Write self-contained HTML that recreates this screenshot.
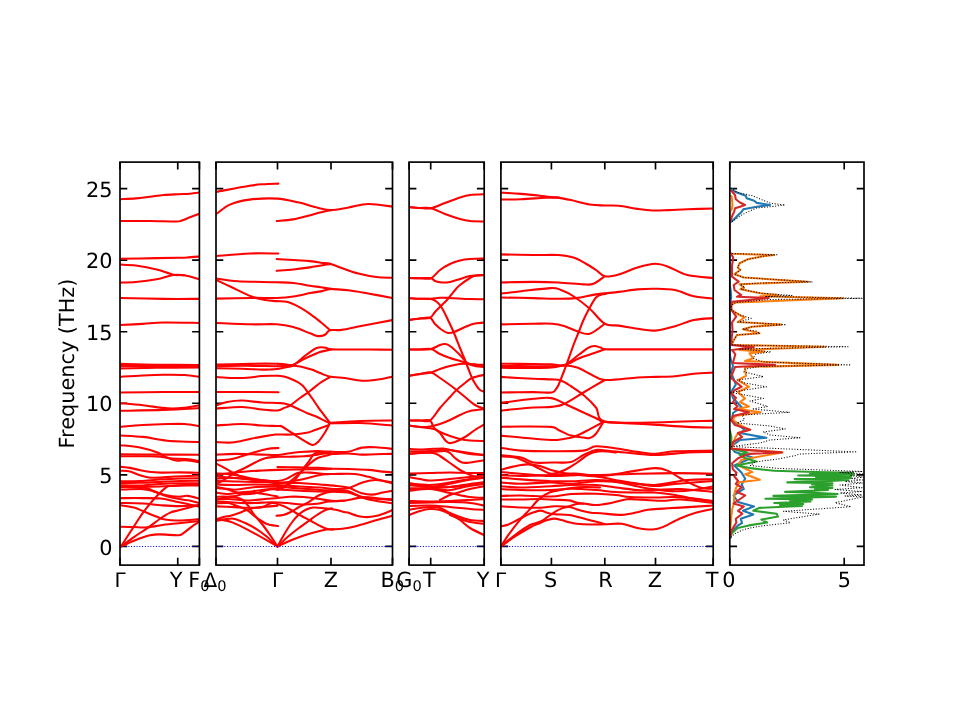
<!DOCTYPE html><html><head><meta charset="utf-8"><title>Phonon band structure and DOS</title>
<style>html,body{margin:0;padding:0;background:#fff;}svg{display:block;}text{font-family:"DejaVu Sans","Liberation Sans",sans-serif;fill:#000;text-rendering:geometricPrecision;}</style></head><body>
<svg width="960" height="720" viewBox="0 0 960 720">
<rect width="960" height="720" fill="#fff"/>
<defs>
<clipPath id="c0"><rect x="120.0" y="162.1" width="79.40" height="403.00"/></clipPath>
<clipPath id="c1"><rect x="216.0" y="162.1" width="176.50" height="403.00"/></clipPath>
<clipPath id="c2"><rect x="409.1" y="162.1" width="75.10" height="403.00"/></clipPath>
<clipPath id="c3"><rect x="500.9" y="162.1" width="212.30" height="403.00"/></clipPath>
<clipPath id="c4"><rect x="729.8" y="162.1" width="134.20" height="403.00"/></clipPath>
</defs>
<path d="M120.0,546.40h7.29M199.4,546.40h-7.29M120.0,474.84h7.29M199.4,474.84h-7.29M120.0,403.28h7.29M199.4,403.28h-7.29M120.0,331.72h7.29M199.4,331.72h-7.29M120.0,260.16h7.29M199.4,260.16h-7.29M120.0,188.60h7.29M199.4,188.60h-7.29M120.0,565.1v-7.29M120.0,162.1v7.29M177.75,565.1v-7.29M177.75,162.1v7.29M199.4,565.1v-7.29M199.4,162.1v7.29" stroke="#000" stroke-width="1.667" fill="none"/>
<path d="M216.0,546.40h7.29M392.5,546.40h-7.29M216.0,474.84h7.29M392.5,474.84h-7.29M216.0,403.28h7.29M392.5,403.28h-7.29M216.0,331.72h7.29M392.5,331.72h-7.29M216.0,260.16h7.29M392.5,260.16h-7.29M216.0,188.60h7.29M392.5,188.60h-7.29M216.0,565.1v-7.29M216.0,162.1v7.29M277.5,565.1v-7.29M277.5,162.1v7.29M331.0,565.1v-7.29M331.0,162.1v7.29M392.5,565.1v-7.29M392.5,162.1v7.29" stroke="#000" stroke-width="1.667" fill="none"/>
<path d="M409.1,546.40h7.29M484.2,546.40h-7.29M409.1,474.84h7.29M484.2,474.84h-7.29M409.1,403.28h7.29M484.2,403.28h-7.29M409.1,331.72h7.29M484.2,331.72h-7.29M409.1,260.16h7.29M484.2,260.16h-7.29M409.1,188.60h7.29M484.2,188.60h-7.29M409.1,565.1v-7.29M409.1,162.1v7.29M430.7,565.1v-7.29M430.7,162.1v7.29M484.2,565.1v-7.29M484.2,162.1v7.29" stroke="#000" stroke-width="1.667" fill="none"/>
<path d="M500.9,546.40h7.29M713.2,546.40h-7.29M500.9,474.84h7.29M713.2,474.84h-7.29M500.9,403.28h7.29M713.2,403.28h-7.29M500.9,331.72h7.29M713.2,331.72h-7.29M500.9,260.16h7.29M713.2,260.16h-7.29M500.9,188.60h7.29M713.2,188.60h-7.29M500.9,565.1v-7.29M500.9,162.1v7.29M551.4,565.1v-7.29M551.4,162.1v7.29M604.8,565.1v-7.29M604.8,162.1v7.29M655.5,565.1v-7.29M655.5,162.1v7.29M713.2,565.1v-7.29M713.2,162.1v7.29" stroke="#000" stroke-width="1.667" fill="none"/>
<path d="M729.8,546.40h7.29M864.0,546.40h-7.29M729.8,474.84h7.29M864.0,474.84h-7.29M729.8,403.28h7.29M864.0,403.28h-7.29M729.8,331.72h7.29M864.0,331.72h-7.29M729.8,260.16h7.29M864.0,260.16h-7.29M729.8,188.60h7.29M864.0,188.60h-7.29M729.8,565.1v-7.29M729.8,162.1v7.29M844.2,565.1v-7.29M844.2,162.1v7.29" stroke="#000" stroke-width="1.667" fill="none"/>
<g clip-path="url(#c0)" fill="none" stroke="#ff0000" stroke-width="2.08" stroke-linejoin="round" stroke-linecap="round">
<path d="M120.00,199.22C122.64,199.08 130.83,198.81 135.83,198.39C140.83,197.97 145.37,197.28 150.00,196.72C154.63,196.17 158.91,195.47 163.61,195.06C168.31,194.64 173.80,194.45 178.19,194.22C182.59,193.99 186.41,193.94 190.00,193.67C193.59,193.39 198.10,192.74 199.72,192.56"/>
<path d="M120.00,221.03C124.95,221.03 140.37,220.96 149.72,221.03C159.07,221.10 170.79,221.51 176.11,221.44C181.44,221.38 179.35,221.31 181.67,220.61C183.98,219.92 186.99,218.44 190.00,217.28C193.01,216.12 198.10,214.27 199.72,213.67"/>
<path d="M120.00,258.81C126.11,258.69 146.97,258.27 156.67,258.11C166.37,257.95 173.10,257.93 178.19,257.83C183.29,257.74 183.63,257.79 187.22,257.56C190.81,257.32 197.64,256.63 199.72,256.44"/>
<path d="M120.00,264.58C122.64,264.75 129.72,264.75 135.83,265.56C141.94,266.37 150.42,267.92 156.67,269.44C162.92,270.97 168.70,273.75 173.33,274.72C177.96,275.69 180.05,274.49 184.44,275.28C188.84,276.06 197.18,278.75 199.72,279.44"/>
<path d="M120.00,282.64C122.64,282.52 129.72,282.52 135.83,281.94C141.94,281.37 150.42,280.32 156.67,279.17C162.92,278.01 168.70,275.65 173.33,275.00C177.96,274.35 182.59,275.23 184.44,275.28"/>
<path d="M120.00,297.92C127.27,298.08 150.32,298.73 163.61,298.89C176.90,299.05 193.70,298.89 199.72,298.89"/>
<path d="M120.00,325.00C123.80,324.81 135.51,324.31 142.78,323.89C150.05,323.47 154.12,322.66 163.61,322.50C173.10,322.34 193.70,322.85 199.72,322.92"/>
<path d="M120.00,363.89C126.11,364.03 143.38,364.54 156.67,364.72C169.95,364.91 192.55,364.95 199.72,365.00"/>
<path d="M120.00,366.11C126.11,366.11 143.38,366.06 156.67,366.11C169.95,366.16 192.55,366.34 199.72,366.39"/>
<path d="M120.00,368.47C126.11,368.36 143.38,367.94 156.67,367.78C169.95,367.62 192.55,367.55 199.72,367.50"/>
<path d="M120.00,376.81C123.80,376.57 135.51,375.76 142.78,375.42C150.05,375.07 156.67,374.79 163.61,374.72C170.56,374.65 178.43,374.65 184.44,375.00C190.46,375.35 197.18,376.50 199.72,376.81"/>
<path d="M120.00,392.50C127.27,392.43 150.32,392.15 163.61,392.08C176.90,392.01 193.70,392.08 199.72,392.08"/>
<path d="M120.00,403.19C123.80,403.54 134.81,404.42 142.78,405.28C150.74,406.13 160.83,407.92 167.78,408.33C174.72,408.75 179.12,408.29 184.44,407.78C189.77,407.27 197.18,405.69 199.72,405.28"/>
<path d="M120.00,410.83C127.27,410.67 150.32,410.32 163.61,409.86C176.90,409.40 193.70,408.36 199.72,408.06"/>
<path d="M120.00,426.81C123.80,426.50 134.81,425.46 142.78,425.00C150.74,424.54 160.83,424.19 167.78,424.03C174.72,423.87 179.12,423.68 184.44,424.03C189.77,424.38 197.18,425.76 199.72,426.11"/>
<path d="M120.15,435.46C123.98,435.70 136.95,436.24 143.12,436.87C149.29,437.49 153.11,438.56 157.17,439.21C161.24,439.87 163.58,440.42 167.48,440.81C171.39,441.20 175.29,441.35 180.60,441.56C185.92,441.76 196.22,441.95 199.35,442.02"/>
<path d="M120.50,445.20C123.75,445.57 133.83,446.18 140.00,447.40C146.17,448.62 153.00,450.82 157.50,452.50C162.00,454.18 163.92,456.17 167.00,457.50C170.08,458.83 172.83,460.03 176.00,460.50C179.17,460.97 182.00,459.97 186.00,460.30C190.00,460.63 197.67,462.13 200.00,462.50"/>
<path d="M120.50,454.30C127.08,454.35 146.75,454.53 160.00,454.60C173.25,454.67 193.33,454.68 200.00,454.70"/>
<path d="M120.50,456.30C125.42,456.28 143.08,456.08 150.00,456.20C156.92,456.32 158.33,456.62 162.00,457.00C165.67,457.38 168.00,458.17 172.00,458.50C176.00,458.83 181.33,458.55 186.00,459.00C190.67,459.45 197.67,460.83 200.00,461.20"/>
<path d="M120.70,466.90C122.25,467.07 126.88,467.38 130.00,467.90C133.12,468.42 136.27,469.35 139.40,470.00C142.53,470.65 145.20,471.37 148.80,471.80C152.40,472.23 155.80,472.50 161.00,472.60C166.20,472.70 173.50,472.37 180.00,472.40C186.50,472.43 196.67,472.73 200.00,472.80"/>
<path d="M120.70,470.70C122.25,470.85 126.88,470.87 130.00,471.60C133.12,472.33 136.27,474.12 139.40,475.10C142.53,476.08 145.20,477.08 148.80,477.50C152.40,477.92 156.63,477.77 161.00,477.60C165.37,477.43 168.50,476.83 175.00,476.50C181.50,476.17 195.83,475.75 200.00,475.60"/>
<path d="M120.70,481.20C123.92,481.17 133.45,481.28 140.00,481.00C146.55,480.72 153.33,479.92 160.00,479.50C166.67,479.08 173.33,478.72 180.00,478.50C186.67,478.28 196.67,478.25 200.00,478.20"/>
<path d="M120.70,483.00C123.92,482.97 133.45,482.97 140.00,482.80C146.55,482.63 153.33,482.30 160.00,482.00C166.67,481.70 173.33,481.20 180.00,481.00C186.67,480.80 196.67,480.83 200.00,480.80"/>
<path d="M120.70,485.30C123.92,485.33 133.45,485.72 140.00,485.50C146.55,485.28 153.33,484.37 160.00,484.00C166.67,483.63 173.33,483.43 180.00,483.30C186.67,483.17 196.67,483.22 200.00,483.20"/>
<path d="M120.70,487.00C123.92,487.00 133.45,487.08 140.00,487.00C146.55,486.92 153.33,486.75 160.00,486.50C166.67,486.25 173.33,485.67 180.00,485.50C186.67,485.33 196.67,485.50 200.00,485.50"/>
<path d="M120.93,546.48C123.09,543.12 130.26,531.92 133.92,526.32C137.58,520.72 139.60,517.36 142.88,512.88C146.17,508.40 149.75,503.70 153.63,499.44C157.52,495.18 163.19,489.58 166.18,487.34C169.17,485.10 168.72,486.37 171.56,486.00C174.39,485.63 178.57,485.33 183.20,485.10C187.83,484.88 196.65,484.73 199.33,484.66"/>
<path d="M120.93,546.48C123.09,544.92 129.52,540.14 133.92,537.08C138.33,534.01 142.88,531.25 147.36,528.11C151.84,524.98 157.07,520.80 160.80,518.26C164.54,515.72 166.78,514.23 169.76,512.88C172.75,511.54 173.80,511.54 178.72,510.19C183.65,508.85 195.90,505.71 199.33,504.82"/>
<path d="M120.93,546.48C123.09,545.51 129.07,542.53 133.92,540.66C138.77,538.79 145.57,536.33 150.05,535.28C154.53,534.24 156.02,534.39 160.80,534.39C165.58,534.39 174.84,535.58 178.72,535.28C182.61,534.98 181.86,534.09 184.10,532.59C186.34,531.10 189.63,528.11 192.16,526.32C194.70,524.53 198.14,522.59 199.33,521.84"/>
<path d="M120.93,526.77C123.09,526.82 129.52,526.93 133.92,527.04C138.33,527.14 142.14,527.82 147.36,527.40C152.59,526.98 160.06,525.23 165.28,524.53C170.51,523.83 173.05,523.78 178.72,523.19C184.40,522.59 195.90,521.32 199.33,520.95"/>
<path d="M120.93,505.27C123.09,505.64 130.26,506.53 133.92,507.51C137.58,508.48 139.15,509.60 142.88,511.09C146.62,512.58 152.59,515.05 156.32,516.47C160.06,517.88 161.55,518.93 165.28,519.60C169.02,520.27 173.05,520.57 178.72,520.50C184.40,520.42 195.90,519.38 199.33,519.15"/>
<path d="M120.93,503.03C124.59,503.10 136.24,503.10 142.88,503.47C149.53,503.85 154.83,504.82 160.80,505.27C166.78,505.71 172.30,506.16 178.72,506.16C185.15,506.16 195.90,505.41 199.33,505.27"/>
<path d="M120.93,498.10C124.59,498.10 136.24,498.02 142.88,498.10C149.53,498.17 155.58,498.02 160.80,498.54C166.03,499.07 169.76,500.34 174.24,501.23C178.72,502.13 183.50,503.03 187.68,503.92C191.87,504.82 197.39,506.16 199.33,506.61"/>
<path d="M120.93,489.58C124.59,489.51 137.43,488.84 142.88,489.14C148.33,489.43 149.90,490.41 153.63,491.38C157.37,492.35 161.10,494.06 165.28,494.96C169.46,495.86 174.99,496.60 178.72,496.75C182.46,496.90 184.25,495.56 187.68,495.86C191.12,496.16 197.39,498.10 199.33,498.54"/>
<path d="M120.93,486.90C124.89,487.05 138.77,486.90 144.67,487.79C150.57,488.69 152.89,490.93 156.32,492.27C159.76,493.62 162.30,494.89 165.28,495.86C168.27,496.83 170.51,497.35 174.24,498.10C177.98,498.84 183.50,499.52 187.68,500.34C191.87,501.16 197.39,502.58 199.33,503.03"/>
</g>
<line x1="120.0" y1="546.4" x2="199.4" y2="546.4" stroke="#0000ff" stroke-width="1.04" stroke-dasharray="1.04,1.72"/>
<g clip-path="url(#c1)" fill="none" stroke="#ff0000" stroke-width="2.08" stroke-linejoin="round" stroke-linecap="round">
<path d="M214.00,192.20C214.48,192.12 210.97,192.77 216.90,191.70C222.83,190.63 241.92,187.05 249.60,185.80C257.28,184.55 258.22,184.57 263.00,184.20C267.78,183.83 275.75,183.70 278.30,183.60"/>
<path d="M214.00,215.00C214.48,214.75 214.27,215.23 216.90,213.50C219.53,211.77 224.35,206.92 229.80,204.60C235.25,202.28 241.68,200.60 249.60,199.60C257.52,198.60 269.05,198.10 277.30,198.60C285.55,199.10 292.50,201.12 299.10,202.60C305.70,204.08 311.62,206.25 316.90,207.50C322.18,208.75 325.52,210.10 330.80,210.10C336.08,210.10 342.33,208.52 348.60,207.50C354.87,206.48 360.83,204.12 368.40,204.00C375.97,203.88 389.73,206.33 394.00,206.80"/>
<path d="M276.80,221.00C279.53,220.73 287.83,220.32 293.20,219.40C298.57,218.48 304.53,216.65 309.00,215.50C313.47,214.35 316.37,213.40 320.00,212.50C323.63,211.60 329.00,210.50 330.80,210.10"/>
<path d="M214.00,256.30C214.48,256.25 210.97,256.47 216.90,256.00C222.83,255.53 239.37,253.92 249.60,253.50C259.83,253.08 273.52,253.50 278.30,253.50"/>
<path d="M276.67,259.03C282.22,259.38 302.64,260.49 310.00,261.11C317.36,261.74 317.41,262.31 320.83,262.78C324.26,263.24 327.08,263.01 330.56,263.89C334.03,264.77 337.04,266.44 341.67,268.06C346.30,269.68 352.55,272.11 358.33,273.61C364.12,275.12 370.72,276.39 376.39,277.08C382.06,277.78 389.70,277.66 392.36,277.78"/>
<path d="M276.67,270.83C279.44,270.60 287.78,270.02 293.33,269.44C298.89,268.87 303.80,268.29 310.00,267.36C316.20,266.44 327.13,264.47 330.56,263.89"/>
<path d="M215.56,278.47C219.26,278.94 227.59,280.62 237.78,281.25C247.96,281.88 267.41,281.92 276.67,282.22C285.93,282.52 287.78,282.45 293.33,283.06C298.89,283.66 305.42,285.14 310.00,285.83C314.58,286.53 317.41,286.71 320.83,287.22C324.26,287.73 325.93,288.38 330.56,288.89C335.19,289.40 342.13,289.47 348.61,290.28C355.09,291.09 362.15,292.48 369.44,293.75C376.74,295.02 388.54,297.22 392.36,297.92"/>
<path d="M215.56,279.58C218.10,280.79 224.81,283.98 230.83,286.81C236.85,289.63 245.88,294.33 251.67,296.53C257.45,298.73 261.39,299.24 265.56,300.00C269.72,300.76 272.96,300.76 276.67,301.11C280.37,301.46 284.07,301.11 287.78,302.08C291.48,303.06 295.19,304.98 298.89,306.94C302.59,308.91 306.34,311.34 310.00,313.89C313.66,316.44 317.52,319.56 320.83,322.22C324.14,324.88 328.36,328.59 329.86,329.86"/>
<path d="M215.56,298.61C221.57,298.50 241.48,298.03 251.67,297.92C261.85,297.80 269.72,298.15 276.67,297.92C283.61,297.69 287.78,297.34 293.33,296.53C298.89,295.72 305.42,293.91 310.00,293.06C314.58,292.20 317.41,292.08 320.83,291.39C324.26,290.69 328.94,289.31 330.56,288.89"/>
<path d="M215.56,322.92C221.57,323.15 241.48,324.07 251.67,324.31C261.85,324.54 269.72,323.84 276.67,324.31C283.61,324.77 287.78,325.58 293.33,327.08C298.89,328.59 305.88,331.83 310.00,333.33C314.12,334.84 315.56,335.88 318.06,336.11C320.56,336.34 323.03,335.69 325.00,334.72C326.97,333.75 327.08,331.09 329.86,330.28C332.64,329.47 336.23,330.62 341.67,329.86C347.11,329.10 354.05,327.31 362.50,325.69C370.95,324.07 387.38,321.06 392.36,320.14"/>
<path d="M216.00,364.50C220.33,364.42 233.83,364.15 242.00,364.00C250.17,363.85 259.08,363.63 265.00,363.60C270.92,363.57 275.42,363.77 277.50,363.80"/>
<path d="M216.00,366.20C220.33,366.13 233.83,365.83 242.00,365.80C250.17,365.77 259.08,365.92 265.00,366.00C270.92,366.08 275.42,366.25 277.50,366.30"/>
<path d="M216.00,368.20C220.33,368.30 234.33,368.57 242.00,368.80C249.67,369.03 257.00,369.50 262.00,369.60C267.00,369.70 269.42,369.50 272.00,369.40C274.58,369.30 276.58,369.07 277.50,369.00"/>
<path d="M277.50,369.00C278.75,368.75 282.42,368.08 285.00,367.50C287.58,366.92 290.50,366.75 293.00,365.50C295.50,364.25 297.83,361.75 300.00,360.00C302.17,358.25 304.05,356.53 306.00,355.00C307.95,353.47 310.03,351.93 311.70,350.80C313.37,349.67 314.38,348.80 316.00,348.20C317.62,347.60 319.73,347.27 321.40,347.20C323.07,347.13 324.40,347.43 326.00,347.80C327.60,348.17 327.00,349.12 331.00,349.40C335.00,349.68 343.50,349.48 350.00,349.50C356.50,349.52 362.67,349.45 370.00,349.50C377.33,349.55 390.00,349.75 394.00,349.80"/>
<path d="M277.50,363.80C278.75,363.88 282.42,364.13 285.00,364.30C287.58,364.47 290.00,365.60 293.00,364.80C296.00,364.00 299.88,361.05 303.00,359.50C306.12,357.95 308.87,356.75 311.70,355.50C314.53,354.25 316.78,353.02 320.00,352.00C323.22,350.98 329.17,349.83 331.00,349.40"/>
<path d="M277.50,366.30C278.75,366.25 282.42,366.08 285.00,366.00C287.58,365.92 290.50,365.72 293.00,365.80C295.50,365.88 298.00,366.17 300.00,366.50C302.00,366.83 303.05,367.28 305.00,367.80C306.95,368.32 309.20,368.73 311.70,369.60C314.20,370.47 317.23,371.88 320.00,373.00C322.77,374.12 326.47,375.67 328.30,376.30C330.13,376.93 327.98,376.47 331.00,376.80C334.02,377.13 341.57,377.68 346.40,378.30C351.23,378.92 356.07,380.13 360.00,380.50C363.93,380.87 366.67,380.72 370.00,380.50C373.33,380.28 376.00,379.90 380.00,379.20C384.00,378.50 391.67,376.78 394.00,376.30"/>
<path d="M216.00,377.00C218.67,377.17 226.83,377.87 232.00,378.00C237.17,378.13 242.00,378.13 247.00,377.80C252.00,377.47 256.92,376.33 262.00,376.00C267.08,375.67 273.85,375.72 277.50,375.80C281.15,375.88 281.82,376.05 283.90,376.50C285.98,376.95 287.68,377.57 290.00,378.50C292.32,379.43 295.63,380.85 297.80,382.10C299.97,383.35 301.38,384.38 303.00,386.00C304.62,387.62 305.83,389.55 307.50,391.80C309.17,394.05 311.15,396.83 313.00,399.50C314.85,402.17 316.77,405.22 318.60,407.80C320.43,410.38 322.15,412.57 324.00,415.00C325.85,417.43 328.75,421.17 329.70,422.40"/>
<path d="M216.00,392.00C222.00,392.00 241.58,391.97 252.00,392.00C262.42,392.03 274.08,392.17 278.50,392.20"/>
<path d="M216.00,408.50C220.33,408.25 234.33,406.83 242.00,407.00C249.67,407.17 256.08,408.92 262.00,409.50C267.92,410.08 273.83,410.75 277.50,410.50C281.17,410.25 281.92,408.83 284.00,408.00C286.08,407.17 287.33,407.17 290.00,405.50C292.67,403.83 296.67,400.42 300.00,398.00C303.33,395.58 306.67,393.50 310.00,391.00C313.33,388.50 316.67,385.33 320.00,383.00C323.33,380.67 328.33,378.00 330.00,377.00"/>
<path d="M216.00,405.50C217.83,404.92 222.67,402.83 227.00,402.00C231.33,401.17 236.17,400.42 242.00,400.50C247.83,400.58 256.08,402.08 262.00,402.50C267.92,402.92 273.17,402.67 277.50,403.00C281.83,403.33 282.92,402.75 288.00,404.50C293.08,406.25 303.50,411.58 308.00,413.50C312.50,415.42 311.50,414.42 315.00,416.00C318.50,417.58 326.67,421.83 329.00,423.00"/>
<path d="M329.00,423.00C334.17,422.67 349.42,421.42 360.00,421.00C370.58,420.58 387.08,420.58 392.50,420.50"/>
<path d="M329.00,423.50C334.17,423.42 349.42,422.67 360.00,423.00C370.58,423.33 387.08,425.08 392.50,425.50"/>
<path d="M216.00,425.50C220.33,425.25 234.33,424.00 242.00,424.00C249.67,424.00 256.08,425.17 262.00,425.50C267.92,425.83 274.17,425.83 277.50,426.00C280.83,426.17 279.58,425.33 282.00,426.50C284.42,427.67 287.67,430.25 292.00,433.00C296.33,435.75 304.50,441.00 308.00,443.00C311.50,445.00 311.33,445.17 313.00,445.00C314.67,444.83 316.17,443.83 318.00,442.00C319.83,440.17 322.17,436.83 324.00,434.00C325.83,431.17 328.17,426.50 329.00,425.00"/>
<path d="M216.00,442.00C218.67,442.08 226.00,443.08 232.00,442.50C238.00,441.92 245.33,439.75 252.00,438.50C258.67,437.25 267.75,435.67 272.00,435.00C276.25,434.33 274.17,434.58 277.50,434.50C280.83,434.42 286.92,434.83 292.00,434.50C297.08,434.17 304.17,433.25 308.00,432.50C311.83,431.75 311.50,431.25 315.00,430.00C318.50,428.75 326.67,425.83 329.00,425.00"/>
<path d="M216.00,460.50C218.67,460.25 226.00,460.25 232.00,459.00C238.00,457.75 246.17,454.67 252.00,453.00C257.83,451.33 262.58,449.83 267.00,449.00C271.42,448.17 276.58,448.17 278.50,448.00"/>
<path d="M216.00,454.60C219.13,454.48 229.35,453.97 234.80,453.90C240.25,453.83 244.07,454.08 248.70,454.20C253.33,454.32 257.80,454.47 262.60,454.60C267.40,454.73 272.95,455.23 277.50,455.00C282.05,454.77 285.52,453.73 289.90,453.20C294.28,452.67 299.17,452.15 303.80,451.80C308.43,451.45 313.07,451.10 317.70,451.10C322.33,451.10 326.57,451.68 331.60,451.80C336.63,451.92 342.87,452.50 347.90,451.80C352.93,451.10 357.17,448.35 361.80,447.60C366.43,446.85 370.33,447.07 375.70,447.30C381.07,447.53 390.95,448.72 394.00,449.00"/>
<path d="M216.00,484.00C217.00,483.50 220.02,482.08 222.00,481.00C223.98,479.92 225.77,478.90 227.90,477.50C230.03,476.10 231.91,474.22 234.80,472.60C237.69,470.98 241.77,469.53 245.25,467.80C248.73,466.07 252.22,463.83 255.70,462.20C259.18,460.57 262.47,458.90 266.10,458.00C269.73,457.10 273.53,457.02 277.50,456.80C281.47,456.58 285.52,456.78 289.90,456.70C294.28,456.62 299.17,456.65 303.80,456.30C308.43,455.95 314.23,455.07 317.70,454.60C321.17,454.13 321.88,453.62 324.60,453.50C327.32,453.38 330.12,453.90 334.00,453.90C337.88,453.90 343.27,453.38 347.90,453.50C352.53,453.62 357.17,454.48 361.80,454.60C366.43,454.72 370.33,454.32 375.70,454.20C381.07,454.08 390.95,453.95 394.00,453.90"/>
<path d="M216.00,463.60C217.40,464.30 221.61,466.30 224.40,467.80C227.19,469.30 230.43,471.33 232.75,472.60C235.07,473.87 235.64,474.35 238.30,475.40C240.96,476.45 244.65,478.08 248.70,478.90C252.75,479.72 257.80,479.95 262.60,480.30C267.40,480.65 273.53,481.23 277.50,481.00C281.47,480.77 283.18,480.18 286.40,478.90C289.62,477.62 294.03,474.35 296.80,473.30C299.57,472.25 300.68,472.72 303.00,472.60C305.32,472.48 307.10,472.37 310.70,472.60C314.30,472.83 320.72,473.77 324.60,474.00C328.48,474.23 328.97,474.00 334.00,474.00C339.03,474.00 349.02,473.53 354.80,474.00C360.58,474.47 365.22,475.98 368.70,476.80C372.18,477.62 371.48,477.74 375.70,478.90C379.92,480.06 390.95,482.94 394.00,483.75"/>
<path d="M216.00,474.70C219.13,474.35 229.35,473.18 234.80,472.60C240.25,472.03 244.07,471.60 248.70,471.25C253.33,470.90 257.80,470.73 262.60,470.50C267.40,470.27 271.80,470.07 277.50,469.90C283.20,469.73 291.27,469.62 296.80,469.50C302.33,469.38 306.07,469.25 310.70,469.20C315.33,469.15 320.72,469.27 324.60,469.20C328.48,469.13 328.97,468.80 334.00,468.80C339.03,468.80 349.02,469.02 354.80,469.20C360.58,469.38 364.07,469.50 368.70,469.90C373.33,470.30 378.38,471.15 382.60,471.60C386.82,472.05 392.10,472.43 394.00,472.60"/>
<path d="M277.50,467.10C280.72,467.15 290.10,467.28 296.80,467.40C303.50,467.52 312.00,467.60 317.70,467.80C323.40,468.00 328.78,468.47 331.00,468.60"/>
<path d="M277.50,488.00C278.75,487.67 282.35,487.05 285.00,486.00C287.65,484.95 291.08,483.58 293.40,481.70C295.72,479.82 297.17,477.02 298.90,474.70C300.63,472.38 302.07,470.12 303.80,467.80C305.53,465.48 307.57,463.12 309.30,460.80C311.03,458.48 312.23,455.32 314.20,453.90C316.17,452.48 318.30,452.65 321.10,452.30C323.90,451.95 329.35,451.88 331.00,451.80"/>
<path d="M277.50,490.00C278.58,489.58 281.93,488.88 284.00,487.50C286.07,486.12 287.77,483.60 289.90,481.70C292.03,479.80 294.48,478.18 296.80,476.10C299.12,474.02 301.48,471.40 303.80,469.20C306.12,467.00 308.38,464.77 310.70,462.90C313.02,461.03 315.38,459.15 317.70,458.00C320.02,456.85 322.38,456.62 324.60,456.00C326.82,455.38 329.93,454.58 331.00,454.30"/>
<path d="M277.50,484.00C279.57,483.62 285.52,482.55 289.90,481.70C294.28,480.85 299.17,479.95 303.80,478.90C308.43,477.85 314.23,476.18 317.70,475.40C321.17,474.62 322.38,474.43 324.60,474.20C326.82,473.97 329.93,474.03 331.00,474.00"/>
<path d="M216.00,481.00C219.17,481.08 228.50,481.33 235.00,481.50C241.50,481.67 247.92,481.83 255.00,482.00C262.08,482.17 270.00,482.33 277.50,482.50C285.00,482.67 292.92,482.67 300.00,483.00C307.08,483.33 314.33,484.07 320.00,484.50C325.67,484.93 329.35,485.08 334.00,485.60C338.65,486.12 343.27,486.33 347.90,487.60C352.53,488.87 357.75,492.03 361.80,493.20C365.85,494.37 368.73,494.72 372.20,494.60C375.67,494.48 378.97,493.20 382.60,492.50C386.23,491.80 392.10,490.75 394.00,490.40"/>
<path d="M216.00,484.50C219.17,484.58 228.50,485.00 235.00,485.00C241.50,485.00 247.92,484.50 255.00,484.50C262.08,484.50 270.00,484.67 277.50,485.00C285.00,485.33 292.92,486.08 300.00,486.50C307.08,486.92 314.33,487.08 320.00,487.50C325.67,487.92 329.35,488.87 334.00,489.00C338.65,489.13 343.27,489.33 347.90,488.30C352.53,487.27 357.17,484.18 361.80,482.80C366.43,481.42 370.33,480.00 375.70,480.00C381.07,480.00 390.95,482.33 394.00,482.80"/>
<path d="M216.00,486.90C219.13,487.37 228.18,489.68 234.80,489.70C241.42,489.72 248.58,487.48 255.70,487.00C262.82,486.52 270.12,486.55 277.50,486.80C284.88,487.05 292.92,487.97 300.00,488.50C307.08,489.03 314.33,489.68 320.00,490.00C325.67,490.32 329.35,490.22 334.00,490.40C338.65,490.58 343.27,489.93 347.90,491.10C352.53,492.27 357.17,495.78 361.80,497.40C366.43,499.02 370.33,499.77 375.70,500.80C381.07,501.83 390.95,503.13 394.00,503.60"/>
<path d="M216.00,488.00C217.98,488.25 223.60,488.52 227.90,489.50C232.20,490.48 237.17,493.28 241.80,493.90C246.43,494.52 251.07,493.93 255.70,493.20C260.33,492.47 265.97,490.12 269.60,489.50C273.23,488.88 272.43,489.28 277.50,489.50C282.57,489.72 292.92,490.47 300.00,490.80C307.08,491.13 314.33,491.33 320.00,491.50C325.67,491.67 329.35,491.63 334.00,491.80C338.65,491.97 343.27,491.68 347.90,492.50C352.53,493.32 357.17,495.66 361.80,496.70C366.43,497.74 370.33,498.18 375.70,498.75C381.07,499.32 390.95,499.88 394.00,500.10"/>
<path d="M216.00,496.70C217.98,496.70 224.57,496.57 227.90,496.70C231.23,496.83 233.68,497.05 236.00,497.50C238.32,497.95 239.68,497.92 241.80,499.40C243.92,500.88 246.67,503.85 248.70,506.40C250.73,508.95 251.78,511.77 254.00,514.70C256.22,517.63 259.33,520.62 262.00,524.00C264.67,527.38 267.42,531.27 270.00,535.00C272.58,538.73 276.25,544.50 277.50,546.40"/>
<path d="M216.00,499.40C218.00,499.33 224.00,498.90 228.00,499.00C232.00,499.10 236.33,499.75 240.00,500.00C243.67,500.25 245.83,500.67 250.00,500.50C254.17,500.33 260.42,499.42 265.00,499.00C269.58,498.58 273.35,498.38 277.50,498.00C281.65,497.62 285.52,496.87 289.90,496.70C294.28,496.53 299.17,496.66 303.80,497.00C308.43,497.34 313.07,498.12 317.70,498.75C322.33,499.38 327.55,500.46 331.60,500.80C335.65,501.14 339.28,500.92 342.00,500.80C344.72,500.68 344.60,500.67 347.90,500.10C351.20,499.53 358.33,497.85 361.80,497.40C365.27,496.95 365.23,497.17 368.70,497.40C372.17,497.62 378.38,498.42 382.60,498.75C386.82,499.08 392.10,499.29 394.00,499.40"/>
<path d="M216.00,501.50C218.00,501.58 224.00,501.75 228.00,502.00C232.00,502.25 235.50,502.83 240.00,503.00C244.50,503.17 249.67,503.12 255.00,503.00C260.33,502.88 266.67,502.25 272.00,502.25C277.33,502.25 282.00,502.62 287.00,503.00C292.00,503.38 297.00,504.38 302.00,504.50C307.00,504.62 312.62,504.25 317.00,503.75C321.38,503.25 323.75,502.00 328.25,501.50C332.75,501.00 341.38,500.88 344.00,500.75"/>
<path d="M216.00,503.50C218.00,503.42 224.50,502.58 228.00,503.00C231.50,503.42 233.83,504.83 237.00,506.00C240.17,507.17 243.67,508.00 247.00,510.00C250.33,512.00 253.67,515.67 257.00,518.00C260.33,520.33 263.50,522.67 267.00,524.00C270.50,525.33 276.17,525.67 278.00,526.00"/>
<path d="M216.00,506.40C219.13,506.52 229.35,506.87 234.80,507.10C240.25,507.33 244.07,507.80 248.70,507.80C253.33,507.80 258.72,507.90 262.60,507.10C266.48,506.30 268.56,503.18 272.00,503.00C275.44,502.82 280.12,504.88 283.25,506.00C286.38,507.12 288.25,508.38 290.75,509.75C293.25,511.12 295.12,512.50 298.25,514.25C301.38,516.00 305.75,518.25 309.50,520.25C313.25,522.25 317.62,524.75 320.75,526.25C323.88,527.75 326.04,528.74 328.25,529.25C330.46,529.76 333.04,529.29 334.00,529.30"/>
<path d="M216.00,519.60C217.40,519.13 221.83,517.50 224.40,516.80C226.97,516.10 228.50,516.22 231.40,515.40C234.30,514.58 238.92,512.93 241.80,511.90C244.68,510.87 246.38,509.88 248.70,509.20C251.02,508.52 250.90,508.38 255.70,507.80C260.50,507.22 273.87,506.05 277.50,505.70"/>
<path d="M216.00,521.00C217.98,520.65 224.77,519.25 227.90,518.90C231.03,518.55 231.91,518.22 234.80,518.90C237.69,519.58 241.77,521.38 245.25,523.00C248.73,524.62 252.24,526.43 255.70,528.60C259.16,530.77 262.37,533.03 266.00,536.00C269.63,538.97 275.58,544.67 277.50,546.40"/>
<path d="M216.00,518.50C218.83,519.18 227.00,520.33 233.00,522.60C239.00,524.87 244.58,528.13 252.00,532.10C259.42,536.07 273.25,544.02 277.50,546.40"/>
<path d="M277.50,546.50C278.46,544.75 281.04,539.75 283.25,536.00C285.46,532.25 288.25,527.50 290.75,524.00C293.25,520.50 295.75,517.38 298.25,515.00C300.75,512.62 303.25,511.00 305.75,509.75C308.25,508.50 310.12,507.75 313.25,507.50C316.38,507.25 320.75,507.88 324.50,508.25C328.25,508.62 332.50,509.12 335.75,509.75C339.00,510.38 341.98,511.52 344.00,512.00C346.02,512.48 344.93,511.80 347.90,512.60C350.87,513.40 357.17,516.22 361.80,516.80C366.43,517.38 370.33,517.32 375.70,516.10C381.07,514.88 390.95,510.60 394.00,509.50"/>
<path d="M277.50,546.50C279.08,545.00 283.54,540.50 287.00,537.50C290.46,534.50 294.50,531.38 298.25,528.50C302.00,525.62 306.38,522.50 309.50,520.25C312.62,518.00 314.50,516.62 317.00,515.00C319.50,513.38 322.00,511.62 324.50,510.50C327.00,509.38 330.75,508.62 332.00,508.25"/>
<path d="M277.50,546.50C279.08,545.75 283.54,543.50 287.00,542.00C290.46,540.50 294.50,538.88 298.25,537.50C302.00,536.12 305.75,534.88 309.50,533.75C313.25,532.62 317.62,531.50 320.75,530.75C323.88,530.00 326.04,529.49 328.25,529.25C330.46,529.01 330.73,529.52 334.00,529.30C337.27,529.07 343.27,528.72 347.90,527.90C352.53,527.08 357.17,525.67 361.80,524.40C366.43,523.13 370.33,521.80 375.70,520.30C381.07,518.80 390.95,516.22 394.00,515.40"/>
<path d="M276.50,515.75C277.62,515.62 280.88,515.62 283.25,515.00C285.62,514.38 288.25,513.25 290.75,512.00C293.25,510.75 295.75,508.88 298.25,507.50C300.75,506.12 303.50,505.00 305.75,503.75C308.00,502.50 309.76,501.29 311.75,500.00C313.74,498.71 315.56,497.13 317.70,496.00C319.84,494.87 322.38,493.90 324.60,493.20C326.82,492.50 329.93,492.03 331.00,491.80"/>
<path d="M216.00,473.50C218.00,473.58 224.00,473.58 228.00,474.00C232.00,474.42 235.50,475.17 240.00,476.00C244.50,476.83 250.00,478.08 255.00,479.00C260.00,479.92 266.25,480.97 270.00,481.50C273.75,482.03 276.25,482.08 277.50,482.20"/>
<path d="M216.00,476.30C218.00,476.50 224.00,477.13 228.00,477.50C232.00,477.87 235.50,478.08 240.00,478.50C244.50,478.92 248.75,479.50 255.00,480.00C261.25,480.50 273.75,481.25 277.50,481.50"/>
<path d="M216.00,478.60C218.33,478.47 225.17,477.77 230.00,477.80C234.83,477.83 240.00,478.30 245.00,478.80C250.00,479.30 254.58,480.02 260.00,480.80C265.42,481.58 274.58,483.05 277.50,483.50"/>
<path d="M216.00,492.60C218.03,492.83 224.40,494.00 228.20,494.00C232.00,494.00 235.27,492.95 238.80,492.60C242.33,492.25 245.27,491.67 249.40,491.90C253.53,492.13 258.92,493.23 263.60,494.00C268.28,494.77 275.18,496.08 277.50,496.50"/>
<path d="M216.00,499.70C218.03,499.22 225.00,497.40 228.20,496.80C231.40,496.20 232.85,496.57 235.20,496.10C237.55,495.63 239.33,494.82 242.30,494.00C245.27,493.18 249.45,491.92 253.00,491.20C256.55,490.48 259.52,490.15 263.60,489.70C267.68,489.25 275.18,488.70 277.50,488.50"/>
</g>
<line x1="216.0" y1="546.4" x2="392.5" y2="546.4" stroke="#0000ff" stroke-width="1.04" stroke-dasharray="1.04,1.72"/>
<g clip-path="url(#c2)" fill="none" stroke="#ff0000" stroke-width="2.08" stroke-linejoin="round" stroke-linecap="round">
<path d="M408.00,207.00C410.00,207.17 416.17,207.80 420.00,208.00C423.83,208.20 426.83,209.03 431.00,208.20C435.17,207.37 440.17,204.78 445.00,203.00C449.83,201.22 455.83,198.83 460.00,197.50C464.17,196.17 465.67,195.55 470.00,195.00C474.33,194.45 483.33,194.33 486.00,194.20"/>
<path d="M408.00,207.00C410.00,207.17 416.17,207.80 420.00,208.00C423.83,208.20 426.83,207.20 431.00,208.20C435.17,209.20 440.17,212.20 445.00,214.00C449.83,215.80 455.83,217.83 460.00,219.00C464.17,220.17 465.67,220.58 470.00,221.00C474.33,221.42 483.33,221.42 486.00,221.50"/>
<path d="M408.00,278.00C410.00,278.03 416.17,278.17 420.00,278.20C423.83,278.23 427.67,279.57 431.00,278.20C434.33,276.83 436.83,272.37 440.00,270.00C443.17,267.63 446.67,265.58 450.00,264.00C453.33,262.42 456.67,261.33 460.00,260.50C463.33,259.67 465.67,259.33 470.00,259.00C474.33,258.67 483.33,258.58 486.00,258.50"/>
<path d="M408.00,278.00C410.00,278.03 416.17,278.17 420.00,278.20C423.83,278.23 428.50,277.73 431.00,278.20C433.50,278.67 433.17,280.28 435.00,281.00C436.83,281.72 439.50,282.33 442.00,282.50C444.50,282.67 447.00,282.58 450.00,282.00C453.00,281.42 456.67,280.00 460.00,279.00C463.33,278.00 465.67,276.67 470.00,276.00C474.33,275.33 483.33,275.17 486.00,275.00"/>
<path d="M408.00,320.00C410.00,319.75 416.33,318.87 420.00,318.50C423.67,318.13 427.50,318.88 430.00,317.80C432.50,316.72 433.00,314.13 435.00,312.00C437.00,309.87 440.00,307.00 442.00,305.00C444.00,303.00 445.50,301.67 447.00,300.00C448.50,298.33 449.50,296.83 451.00,295.00C452.50,293.17 454.50,290.67 456.00,289.00C457.50,287.33 457.67,286.83 460.00,285.00C462.33,283.17 467.33,279.58 470.00,278.00C472.67,276.42 473.33,276.00 476.00,275.50C478.67,275.00 484.33,275.08 486.00,275.00"/>
<path d="M408.00,320.00C410.00,319.75 416.33,318.87 420.00,318.50C423.67,318.13 427.50,316.88 430.00,317.80C432.50,318.72 433.00,321.97 435.00,324.00C437.00,326.03 439.83,328.50 442.00,330.00C444.17,331.50 446.00,332.67 448.00,333.00C450.00,333.33 451.17,333.00 454.00,332.00C456.83,331.00 461.50,328.42 465.00,327.00C468.50,325.58 471.50,324.25 475.00,323.50C478.50,322.75 484.17,322.67 486.00,322.50"/>
<path d="M408.00,298.00C410.00,298.13 416.17,298.67 420.00,298.80C423.83,298.93 427.67,298.97 431.00,298.80C434.33,298.63 436.83,297.93 440.00,297.80C443.17,297.67 445.00,297.80 450.00,298.00C455.00,298.20 464.00,298.80 470.00,299.00C476.00,299.20 483.33,299.17 486.00,299.20"/>
<path d="M408.00,298.00C410.00,298.13 416.17,298.63 420.00,298.80C423.83,298.97 428.17,298.47 431.00,299.00C433.83,299.53 435.17,300.50 437.00,302.00C438.83,303.50 440.17,305.00 442.00,308.00C443.83,311.00 446.00,315.83 448.00,320.00C450.00,324.17 452.00,328.33 454.00,333.00C456.00,337.67 458.17,343.50 460.00,348.00C461.83,352.50 463.67,356.67 465.00,360.00C466.33,363.33 466.83,365.00 468.00,368.00C469.17,371.00 470.67,375.17 472.00,378.00C473.33,380.83 474.67,383.00 476.00,385.00C477.33,387.00 478.33,388.75 480.00,390.00C481.67,391.25 485.00,392.08 486.00,392.50"/>
<path d="M408.00,349.50C410.00,349.50 416.17,349.58 420.00,349.50C423.83,349.42 427.67,349.75 431.00,349.00C434.33,348.25 437.67,345.83 440.00,345.00C442.33,344.17 443.33,343.83 445.00,344.00C446.67,344.17 447.50,344.17 450.00,346.00C452.50,347.83 457.50,352.50 460.00,355.00C462.50,357.50 463.33,359.50 465.00,361.00C466.67,362.50 466.50,363.33 470.00,364.00C473.50,364.67 483.33,364.83 486.00,365.00"/>
<path d="M408.00,349.50C410.00,349.50 416.17,349.58 420.00,349.50C423.83,349.42 427.67,348.25 431.00,349.00C434.33,349.75 436.83,352.50 440.00,354.00C443.17,355.50 446.67,356.83 450.00,358.00C453.33,359.17 457.33,360.17 460.00,361.00C462.67,361.83 463.50,362.17 466.00,363.00C468.50,363.83 471.67,365.33 475.00,366.00C478.33,366.67 484.17,366.83 486.00,367.00"/>
<path d="M408.00,376.00C410.00,375.67 416.17,374.58 420.00,374.00C423.83,373.42 427.67,373.33 431.00,372.50C434.33,371.67 436.83,370.08 440.00,369.00C443.17,367.92 446.67,366.83 450.00,366.00C453.33,365.17 456.67,364.33 460.00,364.00C463.33,363.67 465.67,363.67 470.00,364.00C474.33,364.33 483.33,365.67 486.00,366.00"/>
<path d="M408.00,376.00C410.00,375.67 416.17,374.58 420.00,374.00C423.83,373.42 427.67,371.83 431.00,372.50C434.33,373.17 436.83,375.92 440.00,378.00C443.17,380.08 447.25,383.00 450.00,385.00C452.75,387.00 454.00,388.00 456.50,390.00C459.00,392.00 461.92,394.50 465.00,397.00C468.08,399.50 471.50,402.92 475.00,405.00C478.50,407.08 484.17,408.75 486.00,409.50"/>
<path d="M408.00,420.50C410.00,420.50 416.33,420.50 420.00,420.50C423.67,420.50 426.67,422.58 430.00,420.50C433.33,418.42 436.67,411.92 440.00,408.00C443.33,404.08 447.25,400.00 450.00,397.00C452.75,394.00 454.00,392.33 456.50,390.00C459.00,387.67 462.42,385.00 465.00,383.00C467.58,381.00 468.50,379.42 472.00,378.00C475.50,376.58 483.67,375.08 486.00,374.50"/>
<path d="M408.00,420.50C410.00,420.50 416.33,420.50 420.00,420.50C423.67,420.50 427.67,419.25 430.00,420.50C432.33,421.75 432.33,425.92 434.00,428.00C435.67,430.08 438.17,431.00 440.00,433.00C441.83,435.00 443.50,438.33 445.00,440.00C446.50,441.67 447.33,442.67 449.00,443.00C450.67,443.33 452.33,443.00 455.00,442.00C457.67,441.00 461.67,439.00 465.00,437.00C468.33,435.00 471.50,432.25 475.00,430.00C478.50,427.75 484.17,424.58 486.00,423.50"/>
<path d="M408.00,425.50C410.00,425.75 416.33,426.83 420.00,427.00C423.67,427.17 426.67,427.00 430.00,426.50C433.33,426.00 436.67,425.08 440.00,424.00C443.33,422.92 446.67,421.50 450.00,420.00C453.33,418.50 456.67,416.50 460.00,415.00C463.33,413.50 465.67,412.00 470.00,411.00C474.33,410.00 483.33,409.33 486.00,409.00"/>
<path d="M408.00,425.50C410.00,425.75 415.67,426.42 420.00,427.00C424.33,427.58 430.67,428.17 434.00,429.00C437.33,429.83 437.33,430.83 440.00,432.00C442.67,433.17 446.67,434.83 450.00,436.00C453.33,437.17 456.67,438.25 460.00,439.00C463.33,439.75 465.67,440.17 470.00,440.50C474.33,440.83 483.33,440.92 486.00,441.00"/>
<path d="M408.00,449.00C410.00,449.08 416.33,449.50 420.00,449.50C423.67,449.50 426.17,449.17 430.00,449.00C433.83,448.83 440.00,448.42 443.00,448.50C446.00,448.58 445.17,448.92 448.00,449.50C450.83,450.08 456.33,451.25 460.00,452.00C463.67,452.75 465.67,453.50 470.00,454.00C474.33,454.50 483.33,454.83 486.00,455.00"/>
<path d="M408.00,454.00C410.00,453.83 415.83,453.33 420.00,453.00C424.17,452.67 428.83,452.33 433.00,452.00C437.17,451.67 442.17,450.83 445.00,451.00C447.83,451.17 448.33,451.83 450.00,453.00C451.67,454.17 453.00,456.42 455.00,458.00C457.00,459.58 459.50,461.75 462.00,462.50C464.50,463.25 466.00,462.92 470.00,462.50C474.00,462.08 483.33,460.42 486.00,460.00"/>
<path d="M408.00,454.00C410.00,453.83 415.83,453.17 420.00,453.00C424.17,452.83 429.67,452.50 433.00,453.00C436.33,453.50 437.17,454.33 440.00,456.00C442.83,457.67 446.67,460.67 450.00,463.00C453.33,465.33 457.00,468.17 460.00,470.00C463.00,471.83 465.33,472.83 468.00,474.00C470.67,475.17 473.00,476.33 476.00,477.00C479.00,477.67 484.33,477.83 486.00,478.00"/>
<path d="M408.00,473.50C411.67,473.42 423.00,473.17 430.00,473.00C437.00,472.83 443.33,472.50 450.00,472.50C456.67,472.50 464.00,472.92 470.00,473.00C476.00,473.08 483.33,473.00 486.00,473.00"/>
<path d="M408.00,477.00C410.00,477.33 416.33,478.42 420.00,479.00C423.67,479.58 425.00,480.50 430.00,480.50C435.00,480.50 443.33,479.58 450.00,479.00C456.67,478.42 464.00,477.67 470.00,477.00C476.00,476.33 483.33,475.33 486.00,475.00"/>
<path d="M408.00,483.50C411.67,483.75 423.00,485.17 430.00,485.00C437.00,484.83 443.33,483.50 450.00,482.50C456.67,481.50 464.00,479.92 470.00,479.00C476.00,478.08 483.33,477.33 486.00,477.00"/>
<path d="M408.00,490.00C411.67,489.67 423.00,488.50 430.00,488.00C437.00,487.50 443.33,487.50 450.00,487.00C456.67,486.50 464.00,485.50 470.00,485.00C476.00,484.50 483.33,484.17 486.00,484.00"/>
<path d="M408.00,491.00C411.67,490.67 423.00,488.67 430.00,489.00C437.00,489.33 443.33,491.67 450.00,493.00C456.67,494.33 464.00,496.17 470.00,497.00C476.00,497.83 483.33,497.83 486.00,498.00"/>
<path d="M408.00,485.00C411.67,485.33 423.00,486.67 430.00,487.00C437.00,487.33 443.33,487.50 450.00,487.00C456.67,486.50 464.00,484.83 470.00,484.00C476.00,483.17 483.33,482.33 486.00,482.00"/>
<path d="M408.00,501.00C411.67,501.08 423.00,501.50 430.00,501.50C437.00,501.50 443.33,501.25 450.00,501.00C456.67,500.75 464.00,500.33 470.00,500.00C476.00,499.67 483.33,499.17 486.00,499.00"/>
<path d="M408.00,503.00C411.67,502.92 423.00,502.67 430.00,502.50C437.00,502.33 443.33,501.92 450.00,502.00C456.67,502.08 464.00,502.33 470.00,503.00C476.00,503.67 483.33,505.50 486.00,506.00"/>
<path d="M408.00,506.00C411.67,505.92 423.00,505.33 430.00,505.50C437.00,505.67 443.33,506.42 450.00,507.00C456.67,507.58 464.00,508.50 470.00,509.00C476.00,509.50 483.33,509.83 486.00,510.00"/>
<path d="M408.00,510.00C410.00,509.67 416.33,508.50 420.00,508.00C423.67,507.50 426.67,507.00 430.00,507.00C433.33,507.00 436.67,507.00 440.00,508.00C443.33,509.00 446.67,511.50 450.00,513.00C453.33,514.50 456.67,515.83 460.00,517.00C463.33,518.17 465.67,519.33 470.00,520.00C474.33,520.67 483.33,520.83 486.00,521.00"/>
<path d="M408.00,515.50C410.00,514.75 416.33,512.08 420.00,511.00C423.67,509.92 426.67,509.17 430.00,509.00C433.33,508.83 436.67,509.17 440.00,510.00C443.33,510.83 446.67,512.33 450.00,514.00C453.33,515.67 456.67,517.67 460.00,520.00C463.33,522.33 465.67,525.33 470.00,528.00C474.33,530.67 483.33,534.67 486.00,536.00"/>
<path d="M440.00,500.00C441.67,499.17 446.67,496.33 450.00,495.00C453.33,493.67 456.67,493.00 460.00,492.00C463.33,491.00 465.67,490.00 470.00,489.00C474.33,488.00 483.33,486.50 486.00,486.00"/>
<path d="M450.00,515.00C451.67,515.67 456.67,517.83 460.00,519.00C463.33,520.17 465.67,521.17 470.00,522.00C474.33,522.83 483.33,523.67 486.00,524.00"/>
<path d="M408.00,451.50C411.82,451.42 424.85,451.33 430.90,451.00C436.95,450.67 439.45,449.42 444.30,449.50C449.15,449.58 453.05,450.50 460.00,451.50C466.95,452.50 481.67,454.83 486.00,455.50"/>
<path d="M408.00,483.00C411.82,483.60 424.10,486.45 430.90,486.60C437.70,486.75 442.83,484.95 448.80,483.90C454.77,482.85 460.50,481.35 466.70,480.30C472.90,479.25 482.78,478.05 486.00,477.60"/>
<path d="M408.00,488.40C411.82,488.40 424.10,488.10 430.90,488.40C437.70,488.70 442.83,490.50 448.80,490.20C454.77,489.90 460.50,487.80 466.70,486.60C472.90,485.40 482.78,483.60 486.00,483.00"/>
</g>
<line x1="409.1" y1="546.4" x2="484.2" y2="546.4" stroke="#0000ff" stroke-width="1.04" stroke-dasharray="1.04,1.72"/>
<g clip-path="url(#c3)" fill="none" stroke="#ff0000" stroke-width="2.08" stroke-linejoin="round" stroke-linecap="round">
<path d="M500.00,192.60C503.50,192.82 512.50,193.17 521.00,193.90C529.50,194.63 544.75,196.38 551.00,197.00C557.25,197.62 555.17,197.08 558.50,197.60C561.83,198.12 565.79,198.95 571.00,200.10C576.21,201.25 584.12,203.60 589.75,204.50C595.38,205.40 599.92,205.29 604.75,205.50C609.58,205.71 613.29,205.18 618.75,205.75C624.21,206.32 631.88,208.11 637.50,208.90C643.12,209.69 647.29,210.30 652.50,210.50C657.71,210.70 662.92,210.31 668.75,210.10C674.58,209.89 679.96,209.52 687.50,209.25C695.04,208.98 709.58,208.62 714.00,208.50"/>
<path d="M500.00,199.50C503.50,199.45 513.50,199.48 521.00,199.20C528.50,198.92 538.75,198.07 545.00,197.80C551.25,197.53 556.25,197.63 558.50,197.60"/>
<path d="M500.00,254.40C505.58,254.50 523.75,254.90 533.50,255.00C543.25,255.10 551.83,254.58 558.50,255.00C565.17,255.42 568.92,256.04 573.50,257.50C578.08,258.96 582.25,261.67 586.00,263.75C589.75,265.83 592.88,267.92 596.00,270.00C599.12,272.08 600.96,275.52 604.75,276.25C608.54,276.98 613.29,275.86 618.75,274.40C624.21,272.94 631.46,269.27 637.50,267.50C643.54,265.73 649.79,263.85 655.00,263.75C660.21,263.65 663.33,265.02 668.75,266.90C674.17,268.77 679.96,273.13 687.50,275.00C695.04,276.87 709.58,277.58 714.00,278.10"/>
<path d="M500.00,282.50C505.58,282.40 523.75,281.90 533.50,281.90C543.25,281.90 550.17,282.08 558.50,282.50C566.83,282.92 577.67,284.19 583.50,284.40C589.33,284.61 589.96,285.11 593.50,283.75C597.04,282.39 602.88,277.50 604.75,276.25"/>
<path d="M500.00,293.75C503.50,293.33 512.50,292.19 521.00,291.25C529.50,290.31 544.33,288.31 551.00,288.10C557.67,287.89 557.25,288.64 561.00,290.00C564.75,291.36 568.71,293.12 573.50,296.25C578.29,299.38 584.54,304.17 589.75,308.75C594.96,313.33 599.92,320.94 604.75,323.75C609.58,326.56 613.29,324.77 618.75,325.60C624.21,326.43 631.46,327.92 637.50,328.75C643.54,329.58 648.75,331.02 655.00,330.60C661.25,330.18 668.54,328.02 675.00,326.25C681.46,324.48 687.25,321.36 693.75,320.00C700.25,318.64 710.62,318.42 714.00,318.10"/>
<path d="M500.00,297.50C505.58,297.60 523.75,297.89 533.50,298.10C543.25,298.31 551.42,298.75 558.50,298.75C565.58,298.75 569.75,298.83 576.00,298.10C582.25,297.38 588.88,295.43 596.00,294.40C603.12,293.37 611.83,292.73 618.75,291.90C625.67,291.07 631.46,289.92 637.50,289.40C643.54,288.88 648.75,288.65 655.00,288.75C661.25,288.85 668.54,288.75 675.00,290.00C681.46,291.25 687.25,294.83 693.75,296.25C700.25,297.67 710.62,298.12 714.00,298.50"/>
<path d="M500.00,324.40C505.58,324.29 524.79,323.86 533.50,323.75C542.21,323.64 547.04,323.33 552.25,323.75C557.46,324.17 560.58,325.00 564.75,326.25C568.92,327.50 573.08,330.00 577.25,331.25C581.42,332.50 585.17,335.00 589.75,333.75C594.33,332.50 602.25,325.42 604.75,323.75"/>
<path d="M500.00,392.50C505.58,392.43 524.90,392.10 533.50,392.10C542.10,392.10 547.85,393.02 551.60,392.50C555.35,391.98 554.85,390.25 556.00,389.00C557.15,387.75 557.25,387.75 558.50,385.00C559.75,382.25 562.04,376.25 563.50,372.50C564.96,368.75 565.58,367.08 567.25,362.50C568.92,357.92 571.62,350.00 573.50,345.00C575.38,340.00 576.83,336.67 578.50,332.50C580.17,328.33 581.62,324.17 583.50,320.00C585.38,315.83 587.67,311.25 589.75,307.50C591.83,303.75 593.92,299.68 596.00,297.50C598.08,295.32 600.58,295.02 602.25,294.40C603.92,293.78 605.38,293.90 606.00,293.80"/>
<path d="M500.00,363.75C505.58,363.79 524.90,363.89 533.50,364.00C542.10,364.11 546.39,364.23 551.60,364.40C556.81,364.57 560.23,366.61 564.75,365.00C569.27,363.39 574.86,357.60 578.75,354.75C582.64,351.90 585.49,349.36 588.10,347.90C590.71,346.44 592.32,346.05 594.40,346.00C596.48,345.95 598.88,347.07 600.60,347.60C602.33,348.13 601.52,348.90 604.75,349.20C607.98,349.50 611.42,349.37 620.00,349.40C628.58,349.43 640.58,349.40 656.25,349.40C671.92,349.40 704.38,349.40 714.00,349.40"/>
<path d="M500.00,366.00C505.58,366.03 524.90,366.17 533.50,366.20C542.10,366.23 546.39,366.40 551.60,366.20C556.81,366.00 560.23,366.28 564.75,365.00C569.27,363.72 574.33,360.32 578.75,358.50C583.17,356.68 586.92,355.63 591.25,354.10C595.58,352.57 602.50,350.10 604.75,349.30"/>
<path d="M500.00,367.80C505.58,367.83 524.90,368.05 533.50,368.00C542.10,367.95 546.39,367.92 551.60,367.50C556.81,367.08 560.48,365.50 564.75,365.50C569.02,365.50 573.08,366.12 577.25,367.50C581.42,368.88 585.17,371.67 589.75,373.75C594.33,375.83 596.79,379.38 604.75,380.00C612.71,380.62 628.92,378.02 637.50,377.50C646.08,376.98 650.00,377.11 656.25,376.90C662.50,376.69 668.75,376.77 675.00,376.25C681.25,375.73 687.25,374.38 693.75,373.75C700.25,373.12 710.62,372.71 714.00,372.50"/>
<path d="M500.00,376.90C505.58,377.21 524.90,378.33 533.50,378.75C542.10,379.17 547.02,379.09 551.60,379.40C556.18,379.71 557.77,379.46 561.00,380.60C564.23,381.74 567.25,383.85 571.00,386.25C574.75,388.65 579.33,391.46 583.50,395.00C587.67,398.54 592.46,403.08 596.00,407.50C599.54,411.92 595.75,419.00 604.75,421.50C613.75,424.00 631.79,422.65 650.00,422.50C668.21,422.35 703.33,420.92 714.00,420.60"/>
<path d="M500.00,403.10C505.58,402.38 524.90,399.58 533.50,398.75C542.10,397.92 546.39,397.27 551.60,398.10C556.81,398.93 559.43,401.35 564.75,403.75C570.07,406.15 577.67,409.79 583.50,412.50C589.33,415.21 596.21,418.43 599.75,420.00C603.29,421.57 596.38,421.17 604.75,421.90C613.12,422.63 636.21,423.57 650.00,424.40C663.79,425.23 676.83,426.38 687.50,426.90C698.17,427.42 709.58,427.40 714.00,427.50"/>
<path d="M500.00,410.60C505.58,410.08 524.90,408.12 533.50,407.50C542.10,406.88 546.39,407.52 551.60,406.90C556.81,406.27 559.43,406.15 564.75,403.75C570.07,401.35 576.83,396.46 583.50,392.50C590.17,388.54 601.21,382.08 604.75,380.00"/>
<path d="M500.00,426.90C503.50,426.83 512.50,426.50 521.00,426.50C529.50,426.50 544.75,426.32 551.00,426.90C557.25,427.48 555.17,428.55 558.50,430.00C561.83,431.45 566.83,434.35 571.00,435.60C575.17,436.85 580.38,437.08 583.50,437.50C586.62,437.92 587.67,438.73 589.75,438.10C591.83,437.48 593.71,436.45 596.00,433.75C598.29,431.05 602.25,423.88 603.50,421.90"/>
<path d="M500.00,435.60C503.50,435.92 512.50,436.77 521.00,437.50C529.50,438.23 543.71,439.79 551.00,440.00C558.29,440.21 561.00,439.27 564.75,438.75C568.50,438.23 570.38,437.94 573.50,436.90C576.62,435.86 578.50,435.00 583.50,432.50C588.50,430.00 600.17,423.67 603.50,421.90"/>
<path d="M500.00,447.75C503.50,448.23 512.50,450.02 521.00,450.60C529.50,451.18 540.58,451.25 551.00,451.25C561.42,451.25 576.00,451.43 583.50,450.60C591.00,449.77 590.12,446.56 596.00,446.25C601.88,445.94 611.83,447.81 618.75,448.75C625.67,449.69 631.46,451.07 637.50,451.90C643.54,452.73 648.75,453.86 655.00,453.75C661.25,453.64 665.17,451.77 675.00,451.25C684.83,450.73 707.50,450.71 714.00,450.60"/>
<path d="M500.00,455.00C503.50,455.42 515.42,456.25 521.00,457.50C526.58,458.75 528.50,461.67 533.50,462.50C538.50,463.33 544.75,462.60 551.00,462.50C557.25,462.40 565.58,463.15 571.00,461.90C576.42,460.65 579.33,456.98 583.50,455.00C587.67,453.02 591.58,450.67 596.00,450.00C600.42,449.33 605.17,450.58 610.00,451.00C614.83,451.42 617.50,451.83 625.00,452.50C632.50,453.17 644.58,455.00 655.00,455.00C665.42,455.00 677.67,453.02 687.50,452.50C697.33,451.98 709.58,452.00 714.00,451.90"/>
<path d="M500.00,456.25C502.46,456.46 510.21,456.46 514.75,457.50C519.29,458.54 523.08,460.62 527.25,462.50C531.42,464.38 535.79,466.88 539.75,468.75C543.71,470.62 546.83,473.54 551.00,473.75C555.17,473.96 560.38,471.88 564.75,470.00C569.12,468.12 573.08,465.21 577.25,462.50C581.42,459.79 585.58,455.62 589.75,453.75C593.92,451.88 597.88,451.46 602.25,451.25C606.62,451.04 613.71,452.29 616.00,452.50"/>
<path d="M500.00,470.00C502.46,469.38 510.21,467.18 514.75,466.25C519.29,465.32 523.04,464.44 527.25,464.40C531.46,464.36 536.04,465.07 540.00,466.00C543.96,466.93 546.00,468.67 551.00,470.00C556.00,471.33 561.83,472.96 570.00,474.00C578.17,475.04 590.83,476.50 600.00,476.25C609.17,476.00 615.83,473.86 625.00,472.50C634.17,471.14 647.71,468.31 655.00,468.10C662.29,467.89 664.38,469.48 668.75,471.25C673.12,473.02 676.04,476.04 681.25,478.75C686.46,481.46 694.54,485.83 700.00,487.50C705.46,489.17 711.67,488.54 714.00,488.75"/>
<path d="M500.00,472.00C503.33,472.29 511.50,473.08 520.00,473.75C528.50,474.42 541.00,475.79 551.00,476.00C561.00,476.21 571.83,475.17 580.00,475.00C588.17,474.83 590.42,475.21 600.00,475.00C609.58,474.79 625.00,474.07 637.50,473.75C650.00,473.43 662.25,473.10 675.00,473.10C687.75,473.10 707.50,473.64 714.00,473.75"/>
<path d="M500.00,475.00C503.33,475.17 511.50,476.00 520.00,476.00C528.50,476.00 541.83,475.42 551.00,475.00C560.17,474.58 566.83,473.17 575.00,473.50C583.17,473.83 593.33,475.92 600.00,477.00C606.67,478.08 610.00,479.08 615.00,480.00C620.00,480.92 623.33,481.67 630.00,482.50C636.67,483.33 645.42,485.42 655.00,485.00C664.58,484.58 677.67,480.93 687.50,480.00C697.33,479.07 709.58,479.50 714.00,479.40"/>
<path d="M500.00,477.50C503.50,477.82 512.50,478.77 521.00,479.40C529.50,480.02 542.67,480.94 551.00,481.25C559.33,481.56 563.50,481.46 571.00,481.25C578.50,481.04 588.50,480.00 596.00,480.00C603.50,480.00 609.17,480.58 616.00,481.25C622.83,481.92 630.50,483.21 637.00,484.00C643.50,484.79 648.67,486.00 655.00,486.00C661.33,486.00 665.17,484.83 675.00,484.00C684.83,483.17 707.50,481.50 714.00,481.00"/>
<path d="M500.00,482.50C503.50,482.71 512.50,483.75 521.00,483.75C529.50,483.75 542.67,482.50 551.00,482.50C559.33,482.50 563.50,483.96 571.00,483.75C578.50,483.54 588.50,481.54 596.00,481.25C603.50,480.96 608.67,481.04 616.00,482.00C623.33,482.96 633.50,485.77 640.00,487.00C646.50,488.23 649.17,488.69 655.00,489.40C660.83,490.11 668.54,491.15 675.00,491.25C681.46,491.35 687.25,490.83 693.75,490.00C700.25,489.17 710.62,486.88 714.00,486.25"/>
<path d="M500.00,486.25C503.50,486.46 512.50,487.50 521.00,487.50C529.50,487.50 542.67,486.67 551.00,486.25C559.33,485.83 563.50,485.21 571.00,485.00C578.50,484.79 588.50,484.58 596.00,485.00C603.50,485.42 609.17,486.67 616.00,487.50C622.83,488.33 630.50,489.58 637.00,490.00C643.50,490.42 647.83,490.17 655.00,490.00C662.17,489.83 670.17,488.67 680.00,489.00C689.83,489.33 708.33,491.50 714.00,492.00"/>
<path d="M500.00,489.00C503.50,489.17 512.50,489.83 521.00,490.00C529.50,490.17 542.67,490.21 551.00,490.00C559.33,489.79 563.50,488.75 571.00,488.75C578.50,488.75 588.50,489.46 596.00,490.00C603.50,490.54 608.04,491.58 616.00,492.00C623.96,492.42 637.25,492.42 643.75,492.50C650.25,492.58 649.79,492.08 655.00,492.50C660.21,492.92 668.54,493.96 675.00,495.00C681.46,496.04 687.25,497.71 693.75,498.75C700.25,499.79 710.62,500.83 714.00,501.25"/>
<path d="M500.00,496.00C503.50,495.92 512.50,495.42 521.00,495.50C529.50,495.58 542.67,496.75 551.00,496.50C559.33,496.25 563.50,494.46 571.00,494.00C578.50,493.54 588.50,493.58 596.00,493.75C603.50,493.92 610.33,494.46 616.00,495.00C621.67,495.54 623.50,496.58 630.00,497.00C636.50,497.42 647.50,497.50 655.00,497.50C662.50,497.50 668.54,496.83 675.00,497.00C681.46,497.17 687.25,497.79 693.75,498.50C700.25,499.21 710.62,500.79 714.00,501.25"/>
<path d="M501.10,546.30C502.32,544.40 505.45,539.07 508.40,534.90C511.35,530.73 515.32,525.47 518.80,521.30C522.27,517.13 525.77,513.72 529.25,509.90C532.73,506.08 536.23,501.35 539.70,498.40C543.18,495.45 546.63,493.58 550.10,492.20C553.57,490.82 557.03,490.80 560.50,490.10C563.97,489.40 566.82,488.52 570.90,488.00C574.98,487.48 580.15,487.08 585.00,487.00C589.85,486.92 597.50,487.42 600.00,487.50"/>
<path d="M501.10,546.30C503.42,544.42 510.18,538.55 515.00,535.00C519.82,531.45 525.83,527.20 530.00,525.00C534.17,522.80 537.12,523.10 540.00,521.80C542.88,520.50 544.87,518.82 547.30,517.20C549.73,515.58 552.17,513.57 554.60,512.10C557.03,510.63 559.47,509.38 561.90,508.40C564.33,507.42 566.77,506.93 569.20,506.20C571.63,505.47 574.07,504.45 576.50,504.00C578.93,503.55 580.62,503.33 583.80,503.50C586.98,503.67 591.02,505.10 595.60,505.00C600.18,504.90 606.03,503.85 611.25,502.90C616.47,501.95 621.69,499.82 626.90,499.30C632.11,498.78 636.43,499.55 642.50,499.80C648.57,500.05 657.05,500.85 663.30,500.80C669.55,500.75 671.55,499.13 680.00,499.50C688.45,499.87 708.33,502.42 714.00,503.00"/>
<path d="M501.10,546.30C503.42,544.67 510.18,539.63 515.00,536.50C519.82,533.37 525.83,529.75 530.00,527.50C534.17,525.25 537.12,524.23 540.00,523.00C542.88,521.77 544.87,520.83 547.30,520.10C549.73,519.37 552.17,518.60 554.60,518.60C557.03,518.60 559.47,519.48 561.90,520.10C564.33,520.72 566.77,521.70 569.20,522.30C571.63,522.90 572.87,523.33 576.50,523.70C580.13,524.07 586.28,524.40 591.00,524.50C595.72,524.60 599.68,524.42 604.80,524.30C609.92,524.17 616.28,523.15 621.70,523.75C627.12,524.35 632.10,526.94 637.30,527.90C642.50,528.86 648.57,529.67 652.90,529.50C657.23,529.33 658.78,528.73 663.30,526.90C667.82,525.07 674.72,520.82 680.00,518.50C685.28,516.18 689.33,514.62 695.00,513.00C700.67,511.38 710.83,509.46 714.00,508.75"/>
<path d="M500.00,526.50C501.40,526.17 505.27,525.71 508.40,524.50C511.53,523.29 515.32,521.00 518.80,519.25C522.27,517.50 525.72,515.44 529.25,514.00C532.78,512.56 536.99,510.80 540.00,510.60C543.01,510.40 544.87,512.18 547.30,512.80C549.73,513.42 550.95,513.93 554.60,514.30C558.25,514.67 564.33,514.28 569.20,515.00C574.07,515.72 578.93,517.38 583.80,518.60C588.67,519.82 594.90,521.40 598.40,522.30C601.90,523.20 603.73,523.72 604.80,524.00"/>
<path d="M500.00,506.25C503.50,506.46 514.33,507.26 521.00,507.50C527.67,507.74 534.40,507.92 540.00,507.70C545.60,507.48 549.73,506.32 554.60,506.20C559.47,506.08 565.55,506.50 569.20,507.00C572.85,507.50 574.07,508.48 576.50,509.20C578.93,509.92 581.38,510.70 583.80,511.30C586.22,511.90 588.17,512.47 591.00,512.80C593.83,513.13 595.68,512.95 600.80,513.30C605.92,513.65 615.62,515.07 621.70,514.90C627.78,514.73 632.97,513.17 637.30,512.30C641.63,511.43 643.37,510.32 647.70,509.70C652.03,509.08 657.92,508.95 663.30,508.60C668.68,508.25 671.55,508.12 680.00,507.60C688.45,507.08 708.33,505.85 714.00,505.50"/>
<path d="M500.00,499.50C503.50,499.50 514.33,499.58 521.00,499.50C527.67,499.42 534.40,498.97 540.00,499.00C545.60,499.03 549.73,499.47 554.60,499.70C559.47,499.93 565.55,499.92 569.20,500.40C572.85,500.88 574.07,502.05 576.50,502.60C578.93,503.15 582.58,503.52 583.80,503.70"/>
</g>
<line x1="500.9" y1="546.4" x2="713.2" y2="546.4" stroke="#0000ff" stroke-width="1.04" stroke-dasharray="1.04,1.72"/>
<g clip-path="url(#c4)" fill="none" stroke-linejoin="round">
<polyline points="730.8,188.3 735.0,191.7 745.8,195.8 746.7,198.3 754.2,200.8 756.7,202.9 770.0,205.0 756.7,206.7 743.3,209.2 741.7,211.7 737.5,215.8 732.5,220.8 729.8,222.5 729.8,285.0 730.8,292.0 731.2,297.0 730.5,301.0 729.8,310.0 729.8,355.0 731.0,360.0 733.0,366.0 731.0,372.0 735.8,384.6 731.0,392.0 733.0,398.0 741.6,407.2 733.0,413.0 732.0,420.0 744.5,429.8 740.0,433.0 766.4,437.8 740.0,440.0 733.0,445.0 731.5,448.0 735.0,452.0 752.5,457.5 734.3,465.5 741.6,472.8 745.2,478.7 741.6,484.5 743.8,488.9 733.6,495.5 738.0,502.0 754.0,506.4 743.0,510.8 753.3,514.4 740.8,518.8 742.0,523.1 737.6,525.6 731.4,532.5 729.8,538.5" stroke="#1f77b4" stroke-width="2.08" stroke-linecap="butt"/>
<polyline points="729.8,195.0 731.7,196.7 732.5,205.0 731.7,209.2 729.8,212.0 729.8,252.0 731.2,253.8 773.7,255.0 760.3,256.7 747.8,259.2 739.5,263.3 737.8,267.5 740.3,270.0 734.5,274.2 743.7,277.5 808.0,281.7 739.5,284.2 743.7,287.5 740.3,289.2 760.3,293.3 778.7,295.0 760.3,296.2 843.0,298.3 735.3,302.5 731.2,305.0 731.2,310.0 739.5,315.0 744.5,317.5 737.8,322.0 781.2,324.6 752.0,326.7 742.8,329.2 759.5,333.3 737.0,335.0 732.8,341.7 732.0,345.0 824.7,346.7 739.5,350.0 764.5,351.7 749.5,353.3 753.2,358.3 745.0,361.0 837.8,364.9 745.0,367.0 746.0,375.8 738.0,380.0 748.9,386.8 738.0,392.0 745.0,398.4 740.0,402.0 748.9,406.5 738.0,409.0 760.5,412.3 735.0,416.0 733.0,420.0 740.0,425.0 749.0,429.8 738.0,433.0 735.0,438.0 733.0,445.0 731.4,449.0 782.4,452.4 741.6,459.7 738.0,465.0 752.5,472.1 745.2,474.3 759.8,479.8 739.4,482.3 736.0,488.0 734.0,495.0 734.0,503.0 732.0,510.0 731.0,520.0 730.3,530.0 729.8,538.5" stroke="#ff7f0e" stroke-width="2.08" stroke-linecap="butt"/>
<polyline points="729.8,430.0 731.4,437.0 731.0,446.0 731.4,448.8 747.4,452.4 739.4,454.6 745.0,458.0 756.2,461.5 736.5,465.5 752.5,468.4 774.2,470.8 815.0,472.0 853.0,472.8 810.0,473.6 853.0,474.4 798.2,475.5 851.0,476.3 816.0,477.2 851.0,478.0 794.6,479.1 848.5,480.0 830.0,481.0 787.3,482.4 832.5,483.3 812.0,484.5 832.5,485.5 810.0,487.2 832.5,488.0 815.0,489.0 828.0,490.0 785.1,491.9 814.0,492.8 837.6,494.0 800.0,495.0 773.4,495.9 836.0,496.6 765.4,498.8 812.0,499.5 790.0,500.5 810.6,501.5 774.2,503.0 803.3,504.0 780.0,505.0 802.0,506.0 759.1,507.9 753.3,510.8 776.6,513.7 778.0,516.6 761.3,519.6 767.1,522.5 748.9,525.4 737.6,528.1 731.4,533.8 730.1,538.8" stroke="#2ca02c" stroke-width="2.08" stroke-linecap="butt"/>
<polyline points="730.8,190.0 735.0,195.0 735.8,199.2 740.0,202.5 745.0,205.0 740.0,206.7 735.0,208.3 734.2,211.7 732.5,215.0 730.8,220.0 729.8,222.0 729.8,252.0 731.2,254.2 733.2,257.5 732.0,265.8 732.0,276.7 738.7,281.7 733.7,285.0 734.5,290.0 741.2,295.0 737.0,296.7 768.7,298.0 732.0,301.7 731.2,305.0 731.5,310.0 736.2,316.7 732.0,322.5 732.5,330.0 731.5,340.0 731.2,345.0 753.7,347.1 732.0,350.0 735.3,354.2 733.7,360.0 733.0,363.0 775.0,364.9 735.0,367.0 733.0,372.0 731.0,378.0 741.6,386.8 735.0,390.0 731.0,393.0 736.0,398.0 733.0,402.0 737.6,406.5 734.0,409.0 748.9,412.3 733.0,416.0 731.0,420.0 735.0,425.0 750.3,429.8 738.0,433.0 742.0,437.0 733.0,442.0 731.4,448.8 781.7,452.4 748.9,453.9 738.0,458.2 732.1,463.3 732.8,469.2 736.5,472.8 734.3,476.5 738.0,480.8 735.8,483.8 741.6,487.4 736.5,491.8 745.2,495.5 733.6,503.5 743.8,506.4 738.0,510.8 742.3,513.7 735.8,518.8 736.4,522.5 731.4,530.6 729.8,538.5" stroke="#d62728" stroke-width="2.08" stroke-linecap="butt"/>
<polyline points="730.8,188.3 737.5,192.5 752.5,195.8 762.5,200.0 770.8,203.3 785.0,205.0 770.8,206.7 756.7,207.9 750.0,210.8 741.7,215.0 733.3,220.8 729.8,222.5 729.8,252.5 731.0,253.5 777.0,254.8 765.0,255.8 760.3,256.9 747.8,259.4 739.5,263.3 737.8,267.5 740.3,270.0 734.5,274.2 743.7,277.5 812.5,281.9 760.0,283.0 740.0,284.4 745.0,287.5 741.0,289.2 761.0,293.3 792.0,295.4 765.0,296.5 862.0,298.3 770.0,299.5 736.0,302.5 731.5,305.0 731.5,310.0 740.0,315.0 751.2,318.3 738.0,322.0 786.2,324.6 752.0,326.7 743.0,329.2 756.0,331.0 760.0,333.3 737.0,335.0 733.0,341.7 732.5,345.0 848.0,346.7 740.0,349.0 771.0,351.8 756.0,354.0 753.0,358.3 763.5,362.0 851.0,364.9 760.0,366.5 745.0,369.0 744.0,372.0 763.5,376.6 737.0,380.0 745.0,383.0 766.4,386.8 745.0,390.0 731.0,392.5 745.0,395.0 763.5,398.4 750.0,401.0 760.0,404.0 767.8,406.5 752.0,409.0 789.7,412.3 742.0,415.0 744.5,419.6 737.0,423.0 770.0,426.0 785.3,429.0 763.0,432.0 770.0,435.0 799.9,437.8 770.0,440.0 760.0,443.0 731.4,446.6 857.0,451.9 800.0,454.0 794.8,455.7 778.0,459.0 755.0,462.0 750.3,465.5 778.0,468.4 862.6,471.5 840.0,472.5 862.6,474.0 850.0,475.5 862.6,477.0 852.0,478.5 862.6,480.0 845.0,481.5 862.6,483.0 840.0,485.0 862.0,487.7 835.0,489.5 862.0,491.5 840.0,493.0 862.0,495.0 845.0,496.0 862.6,497.0 835.0,502.7 851.0,506.7 783.5,511.3 819.0,514.1 783.5,519.9 790.4,522.7 780.1,523.8 759.5,526.2 743.9,529.4 734.5,533.8 731.4,536.9 729.8,539.0" stroke="#000000" stroke-width="1.04" stroke-dasharray="1.04,1.72"/>
</g>
<rect x="120.0" y="162.1" width="79.40" height="403.00" fill="none" stroke="#000" stroke-width="1.667"/>
<rect x="216.0" y="162.1" width="176.50" height="403.00" fill="none" stroke="#000" stroke-width="1.667"/>
<rect x="409.1" y="162.1" width="75.10" height="403.00" fill="none" stroke="#000" stroke-width="1.667"/>
<rect x="500.9" y="162.1" width="212.30" height="403.00" fill="none" stroke="#000" stroke-width="1.667"/>
<rect x="729.8" y="162.1" width="134.20" height="403.00" fill="none" stroke="#000" stroke-width="1.667"/>
<text x="112.6" y="554.50" font-size="20.83" text-anchor="end">0</text>
<text x="112.6" y="482.94" font-size="20.83" text-anchor="end">5</text>
<text x="112.6" y="411.38" font-size="20.83" text-anchor="end">10</text>
<text x="112.6" y="339.82" font-size="20.83" text-anchor="end">15</text>
<text x="112.6" y="268.26" font-size="20.83" text-anchor="end">20</text>
<text x="112.6" y="196.70" font-size="20.83" text-anchor="end">25</text>
<text transform="translate(73.9,363.5) rotate(-90)" font-size="20.83" text-anchor="middle">Frequency (THz)</text>
<text x="120.2" y="587.2" font-size="20.83" text-anchor="middle"><tspan font-size="20.0">Γ</tspan></text>
<text x="176.0" y="587.2" font-size="20.83" text-anchor="middle">Y</text>
<text x="198.9" y="587.2" font-size="20.83" text-anchor="middle">F<tspan font-size="14.58" dy="3.9">0</tspan></text>
<text x="215.0" y="587.2" font-size="20.83" text-anchor="middle"><tspan font-size="20.0">Δ</tspan><tspan font-size="14.58" dy="3.9">0</tspan></text>
<text x="277.7" y="587.2" font-size="20.83" text-anchor="middle"><tspan font-size="20.0">Γ</tspan></text>
<text x="330.8" y="587.2" font-size="20.83" text-anchor="middle">Z</text>
<text x="392.2" y="587.2" font-size="20.83" text-anchor="middle">B<tspan font-size="14.58" dy="3.9">0</tspan></text>
<text x="409.0" y="587.2" font-size="20.83" text-anchor="middle">G<tspan font-size="14.58" dy="3.9">0</tspan></text>
<text x="429.4" y="587.2" font-size="20.83" text-anchor="middle">T</text>
<text x="483.0" y="587.2" font-size="20.83" text-anchor="middle">Y</text>
<text x="500.5" y="587.2" font-size="20.83" text-anchor="middle"><tspan font-size="20.0">Γ</tspan></text>
<text x="550.5" y="587.2" font-size="20.83" text-anchor="middle">S</text>
<text x="605.4" y="587.2" font-size="20.83" text-anchor="middle">R</text>
<text x="654.9" y="587.2" font-size="20.83" text-anchor="middle">Z</text>
<text x="712.2" y="587.2" font-size="20.83" text-anchor="middle">T</text>
<text x="728.9" y="587.2" font-size="20.83" text-anchor="middle">0</text>
<text x="844.3" y="587.2" font-size="20.83" text-anchor="middle">5</text>
</svg></body></html>
